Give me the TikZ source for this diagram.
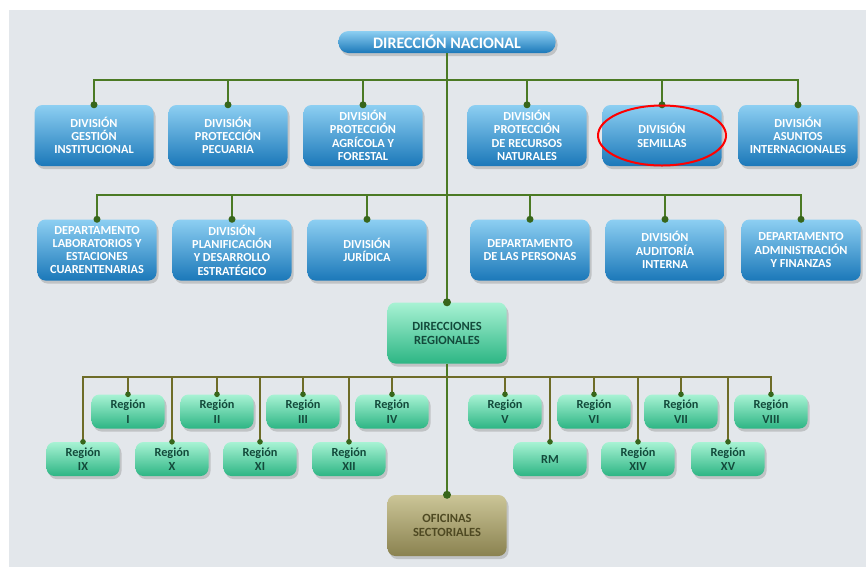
\documentclass[tikz,border=0pt]{standalone}
\usepackage{fontspec}
\setmainfont{Carlito}
\usepackage{xcolor}
\usetikzlibrary{shadows}

\definecolor{panelgray}{HTML}{E3E7EB}
\definecolor{bluetop}{HTML}{8DCFF2}
\definecolor{bluebot}{HTML}{1B78B9}
\definecolor{greentop}{HTML}{A8F3D4}
\definecolor{greenbot}{HTML}{2DB584}
\definecolor{olivetop}{HTML}{CBC597}
\definecolor{olivebot}{HTML}{8A8250}
\definecolor{linegreen}{HTML}{4B7A24}
\definecolor{lineolive}{HTML}{6E6C28}
\definecolor{dotgreen}{HTML}{38661B}
\definecolor{regtext}{HTML}{134A3B}
\definecolor{sectext}{HTML}{4E4922}

\tikzset{
  boxbase/.style={rounded corners=8pt, align=center,
    drop shadow={shadow xshift=2pt, shadow yshift=-3pt, opacity=.35}},
  topbox/.style={boxbase, top color=bluetop, bottom color=bluebot, text=white,
    minimum width=217pt, minimum height=22pt, rounded corners=10pt,
    font=\bfseries\fontsize{16}{17}\selectfont},
  divbox/.style={boxbase, top color=bluetop, bottom color=bluebot, text=white,
    minimum width=119pt, minimum height=61pt,
    font=\bfseries\fontsize{12.3}{13.3}\selectfont},
  dirbox/.style={boxbase, top color=greentop, bottom color=greenbot, text=regtext,
    minimum width=119pt, minimum height=61pt,
    font=\bfseries\fontsize{12.5}{14}\selectfont},
  regbox/.style={boxbase, top color=greentop, bottom color=greenbot, text=regtext,
    minimum width=73pt, minimum height=34pt,
    font=\bfseries\fontsize{12.3}{14.5}\selectfont},
  sectbox/.style={boxbase, top color=olivetop, bottom color=olivebot, text=sectext,
    minimum width=119pt, minimum height=61pt,
    font=\bfseries\fontsize{12.5}{14}\selectfont},
  link/.style={draw=linegreen, line width=2pt},
  reglink/.style={draw=lineolive, line width=1.6pt},
  jdot/.style={fill=dotgreen}
}

\begin{document}
\begin{tikzpicture}[x=1pt, y=-1pt]
	\useasboundingbox (0,0) rectangle (866,574);
	\fill[panelgray] (9,10) rectangle (866,567);

	% top
	\node[topbox] (dn) at (447,42) {DIRECCIÓN NACIONAL};

	% first row of divisions
	\node[divbox] (g1) at (94,135.5) {DIVISIÓN\\GESTIÓN\\INSTITUCIONAL};
	\node[divbox] (g2) at (228,135.5) {DIVISIÓN\\PROTECCIÓN\\PECUARIA};
	\node[divbox] (g3) at (363,135.5) {DIVISIÓN\\PROTECCIÓN\\AGRÍCOLA Y\\FORESTAL};
	\node[divbox] (g4) at (527,135.5) {DIVISIÓN\\PROTECCIÓN\\DE RECURSOS\\NATURALES};
	\node[divbox] (g5) at (662,135.5) {DIVISIÓN\\SEMILLAS};
	\node[divbox] (g6) at (798,135.5) {DIVISIÓN\\ASUNTOS\\INTERNACIONALES};

	% second row
	\node[divbox] (d1) at (97,250) {DEPARTAMENTO\\LABORATORIOS Y\\ESTACIONES\\CUARENTENARIAS};
	\node[divbox] (d2) at (232,250) {DIVISIÓN\\PLANIFICACIÓN\\Y DESARROLLO\\ESTRATÉGICO};
	\node[divbox] (d3) at (367,250) {DIVISIÓN\\JURÍDICA};
	\node[divbox] (d4) at (530,250) {DEPARTAMENTO\\DE LAS PERSONAS};
	\node[divbox] (d5) at (665,250) {DIVISIÓN\\AUDITORÍA\\INTERNA};
	\node[divbox] (d6) at (801,250) {DEPARTAMENTO\\ADMINISTRACIÓN\\Y FINANZAS};

	\node[dirbox] (dr) at (447,333) {DIRECCIONES\\REGIONALES};

	% regions
	\node[regbox] (r1) at (128,411.5) {Región\\I};
	\node[regbox] (r2) at (217,411.5) {Región\\II};
	\node[regbox] (r3) at (303,411.5) {Región\\III};
	\node[regbox] (r4) at (392,411.5) {Región\\IV};
	\node[regbox] (r5) at (505,411.5) {Región\\V};
	\node[regbox] (r6) at (594,411.5) {Región\\VI};
	\node[regbox] (r7) at (681,411.5) {Región\\VII};
	\node[regbox] (r8) at (771,411.5) {Región\\VIII};
	\node[regbox] (r9) at (83,459) {Región\\IX};
	\node[regbox] (r10) at (172,459) {Región\\X};
	\node[regbox] (r11) at (260,459) {Región\\XI};
	\node[regbox] (r12) at (349,459) {Región\\XII};
	\node[regbox] (rm) at (550,459) {RM};
	\node[regbox] (r14) at (638,459) {Región\\XIV};
	\node[regbox] (r15) at (728,459) {Región\\XV};

	\node[sectbox] (os) at (447,525.5) {OFICINAS\\SECTORIALES};

	% buses
	\coordinate (busA) at (447,80);
	\coordinate (busB) at (447,195);
	\coordinate (busC) at (447,377);

	\draw[link] (dn.south) -- (dr.north);
	\draw[link] (dr.south) -- (os.north);
	\draw[link] (g1.north) |- (busA);
	\draw[link] (g2.north) |- (busA);
	\draw[link] (g3.north) |- (busA);
	\draw[link] (g4.north) |- (busA);
	\draw[link] (g5.north) |- (busA);
	\draw[link] (g6.north) |- (busA);
	\draw[link] (d1.north) |- (busB);
	\draw[link] (d2.north) |- (busB);
	\draw[link] (d3.north) |- (busB);
	\draw[link] (d4.north) |- (busB);
	\draw[link] (d5.north) |- (busB);
	\draw[link] (d6.north) |- (busB);
	\draw[reglink] (r1.north) |- (busC);
	\draw[reglink] (r2.north) |- (busC);
	\draw[reglink] (r3.north) |- (busC);
	\draw[reglink] (r4.north) |- (busC);
	\draw[reglink] (r5.north) |- (busC);
	\draw[reglink] (r6.north) |- (busC);
	\draw[reglink] (r7.north) |- (busC);
	\draw[reglink] (r8.north) |- (busC);
	\draw[reglink] (r9.north) |- (busC);
	\draw[reglink] (r10.north) |- (busC);
	\draw[reglink] (r11.north) |- (busC);
	\draw[reglink] (r12.north) |- (busC);
	\draw[reglink] (rm.north) |- (busC);
	\draw[reglink] (r14.north) |- (busC);
	\draw[reglink] (r15.north) |- (busC);

	% junction dots
	\fill[jdot] (g1.north) circle (3.5) (g2.north) circle (3.5) (g3.north) circle (3.5)
		(g4.north) circle (3.5) (g5.north) circle (3.5) (g6.north) circle (3.5);
	\fill[jdot] (d1.north) circle (3.5) (d2.north) circle (3.5) (d3.north) circle (3.5)
		(d4.north) circle (3.5) (d5.north) circle (3.5) (d6.north) circle (3.5);
	\fill[jdot] (dr.north) circle (4) (os.north) circle (4);
	\fill[jdot] (r1.north) circle (2.8) (r2.north) circle (2.8) (r3.north) circle (2.8)
		(r4.north) circle (2.8) (r5.north) circle (2.8) (r6.north) circle (2.8)
		(r7.north) circle (2.8) (r8.north) circle (2.8) (r9.north) circle (2.8)
		(r10.north) circle (2.8) (r11.north) circle (2.8) (r12.north) circle (2.8)
		(rm.north) circle (2.8) (r14.north) circle (2.8) (r15.north) circle (2.8);

	% mark
	\draw[red, line width=2pt] (g5) ellipse [x radius=64, y radius=30];
\end{tikzpicture}
\end{document}
